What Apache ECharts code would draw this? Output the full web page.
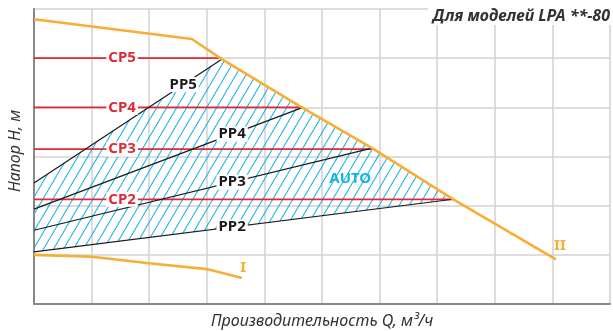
<!DOCTYPE html>
<html>
<head>
<meta charset="utf-8">
<script src="https://cdn.jsdelivr.net/npm/echarts@6/dist/echarts.min.js"></script>
<style>
  html, body { margin: 0; padding: 0; background: #fff; }
  #chart { width: 613px; height: 331px; }
</style>
</head>
<body>
<div id="chart"></div>
<script>
// curves of the pump (grid units: 10 cells in Q, 6 cells in H)
var curveII = [[0, 5.79], [2.74, 5.39], [3.26, 4.98], [4.62, 4.02], [5.87, 3.17], [7.28, 2.13], [9.06, 0.91]];
var curveI = [[0, 1.0], [1.0, 0.96], [2.0, 0.83], [3.0, 0.71], [3.61, 0.53]];

// constant pressure lines
var cpNames = ['CP5', 'CP4', 'CP3', 'CP2'];
var cpLevels = [5.0, 4.0, 3.15, 2.13];
var cpEnds = [3.26, 4.67, 5.87, 7.28];
var cpLabelX = 1.53;

// proportional pressure lines
var ppNames = ['PP5', 'PP4', 'PP3', 'PP2'];
var ppStart = [2.46, 1.93, 1.50, 1.06];
var ppEndX = [3.26, 4.67, 5.87, 7.28];
var ppEndY = [4.98, 4.0, 3.17, 2.13];
var ppLabelX = [2.59, 3.44, 3.44, 3.44];

// AUTO zone
var autoArea = [[0, 1.06], [7.28, 2.13], [5.87, 3.17], [4.62, 4.02], [3.26, 4.98], [0, 2.46]];

var titleText = 'Для моделей LPA **-80';
var xName = 'Производительность Q, м³/ч';
var yName = 'Напор H, м';

var ORANGE = '#f8ad35';
var RED = '#df2a35';
var CYAN = '#19b3e8';

// hatch pattern
function makeHatch() {
    var w = 10, h = 17;
    var c = document.createElement('canvas');
    c.width = w; c.height = h;
    var ctx = c.getContext('2d');
    ctx.strokeStyle = CYAN;
    ctx.lineWidth = 1.1;
    for (var k = -1; k <= 1; k++) {
        ctx.beginPath();
        ctx.moveTo(k * w, h);
        ctx.lineTo(k * w + w, 0);
        ctx.stroke();
    }
    return c;
}
var hatch = makeHatch();

var series = [];

series.push({
    type: 'custom',
    z: 1,
    silent: true,
    data: [[0, 0]],
    renderItem: function (params, api) {
        var pts = autoArea.map(function (p) { return api.coord(p); });
        return {
            type: 'polygon',
            shape: { points: pts },
            style: { fill: { image: hatch, repeat: 'repeat' }, stroke: null }
        };
    }
});

for (var i = 0; i < cpNames.length; i++) {
    series.push({
        type: 'line',
        z: 3,
        symbol: 'none',
        silent: true,
        lineStyle: { color: RED, width: 1.8 },
        data: [[0, cpLevels[i]], [cpEnds[i], cpLevels[i]]]
    });
}

for (var j = 0; j < ppNames.length; j++) {
    series.push({
        type: 'line',
        z: 4,
        symbol: 'none',
        silent: true,
        lineStyle: { color: '#1a1a1a', width: 1.2 },
        data: [[0, ppStart[j]], [ppEndX[j], ppEndY[j]]]
    });
}

series.push({
    type: 'line', z: 5, symbol: 'none', silent: true,
    lineStyle: { color: ORANGE, width: 2.6 },
    data: curveII
});
series.push({
    type: 'line', z: 5, symbol: 'none', silent: true,
    lineStyle: { color: ORANGE, width: 2.6 },
    data: curveI
});

// labels
var labelData = [];
var lblFont = '"Noto Sans", sans-serif';
for (var a = 0; a < cpNames.length; a++) {
    labelData.push({
        value: [cpLabelX, cpLevels[a]], name: cpNames[a],
        label: { color: RED }
    });
}
for (var b = 0; b < ppNames.length; b++) {
    var t = ppLabelX[b] / ppEndX[b];
    labelData.push({
        value: [ppLabelX[b], ppStart[b] + (ppEndY[b] - ppStart[b]) * t], name: ppNames[b],
        label: { color: '#1a1a1a' }
    });
}
labelData.push({ value: [5.49, 2.54], name: 'AUTO', label: { color: CYAN, backgroundColor: 'transparent' } });
labelData.push({ value: [3.63, 0.73], name: 'I', label: { color: ORANGE, backgroundColor: 'transparent' } });
labelData.push({ value: [9.13, 1.18], name: 'II', label: { color: ORANGE, backgroundColor: 'transparent' } });

series.push({
    type: 'scatter',
    z: 10,
    symbolSize: 0,
    silent: true,
    itemStyle: { opacity: 1 },
    label: {
        show: true,
        position: 'inside',
        formatter: '{b}',
        fontFamily: lblFont,
        fontWeight: 'bold',
        fontSize: 15,
        backgroundColor: '#fff',
        padding: [0, 2, 0, 2]
    },
    data: labelData
});

var chart = echarts.init(document.getElementById('chart'), null, { renderer: 'canvas' });
chart.setOption({
    animation: false,
    backgroundColor: '#fff',
    grid: { left: 34, right: 3, top: 9, bottom: 27, outerBoundsMode: 'none', containLabel: false },
    xAxis: {
        type: 'value', min: 0, max: 10, interval: 1,
        name: xName, nameLocation: 'middle', nameGap: 9,
        nameTextStyle: { fontFamily: lblFont, fontStyle: 'italic', fontSize: 16, color: '#333', verticalAlign: 'top' },
        axisLine: { show: true, lineStyle: { color: '#888', width: 2 } },
        axisTick: { show: false },
        axisLabel: { show: false },
        splitLine: { show: true, lineStyle: { color: '#d2d2d2', width: 1.5 } }
    },
    yAxis: {
        type: 'value', min: 0, max: 6, interval: 1,
        axisLine: { show: true, lineStyle: { color: '#888', width: 2 } },
        axisTick: { show: false },
        axisLabel: { show: false },
        splitLine: { show: true, lineStyle: { color: '#d2d2d2', width: 1.5 } }
    },
    graphic: [
        {
            type: 'rect', z: 100, silent: true,
            shape: { x: 428, y: 0, width: 185, height: 25 },
            style: { fill: '#fff' }
        },
        {
            type: 'text', z: 101, silent: true,
            x: 610, y: 16,
            style: {
                text: titleText, align: 'right', verticalAlign: 'middle',
                font: 'italic bold 16px "Noto Sans", sans-serif', fill: '#333'
            }
        },
        {
            type: 'text', z: 101, silent: true,
            x: 15, y: 151, rotation: Math.PI / 2,
            style: {
                text: yName, align: 'center', verticalAlign: 'middle',
                font: 'italic 16px "Noto Sans", sans-serif', fill: '#333'
            }
        }
    ],
    series: series
});
</script>
</body>
</html>
